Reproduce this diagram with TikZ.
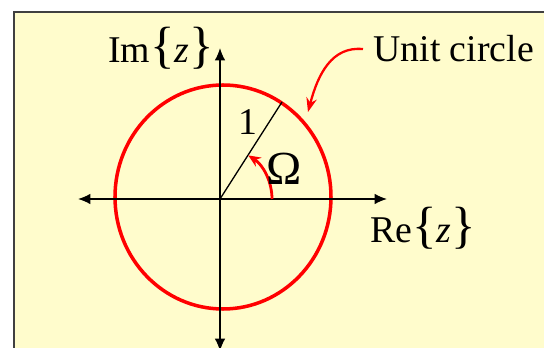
\documentclass[tikz,border=0pt]{standalone}
\usepackage{fontspec}
\setmainfont{Liberation Serif}
\usetikzlibrary{arrows.meta}
\tikzset{
  axis/.style={line width=0.85pt,-{Latex[length=7pt,width=6pt]}},
  redline/.style={red,line width=1.3pt},
  lbl/.style={inner sep=0pt,font=\fontsize{21.5}{24}\selectfont}
}
\newcommand{\bigbr}[1]{{\fontsize{29}{30}\selectfont#1}}
\begin{document}
\begin{tikzpicture}[x=0.02cm,y=0.02cm]
  \useasboundingbox (-220,-149) rectangle (324,199);
  % 背景框
  \fill[yellow!20] (-206,-149) rectangle (324,187);
  \draw[black!75,line width=1.2pt] (-206,-149) -- (-206,187) -- (324,187);
  % 单位圆
  \draw[red,line width=2pt] (3,2) ellipse [x radius=108,y radius=112];
  % 坐标轴
  \draw[axis] (0,0) -- (167,0);
  \draw[axis] (0,0) -- (-142,0);
  \draw[axis] (0,0) -- (0,151);
  \draw[axis] (0,0) -- (0,-152);
  % 半径 1
  \coordinate (O) at (0,0);
  \coordinate (P) at (62,97);
  \draw[line width=0.75pt] (O) -- (P);
  \node[lbl] (one) at (28,77) {1};
  % 角度 Omega
  \draw[redline,line width=1.6pt,-{Stealth[length=7pt,width=6pt]}] (52,0) arc[start angle=0,end angle=57,radius=52];
  \node[lbl,anchor=base,font=\fontsize{27}{29}\selectfont] (omega) at (64,14) {Ω};
  % 轴标签
  \node[lbl,anchor=base] (im) at (-59,136) {Im\bigbr{\{}\textit{z}\bigbr{\}}};
  \node[lbl,anchor=base] (re) at (203,-44) {Re\bigbr{\{}\textit{z}\bigbr{\}}};
  % Unit circle 标注
  \node[lbl,anchor=base west] (uc) at (153,137) {Unit circle};
  \coordinate (uctip) at (88,87);
  \draw[redline,-{Stealth[length=8pt,width=6pt]}] (uc.west) ++(-10,0) coordinate (ucstart)
    .. controls (112,153) and (98,125) .. (uctip);
\end{tikzpicture}
\end{document}
